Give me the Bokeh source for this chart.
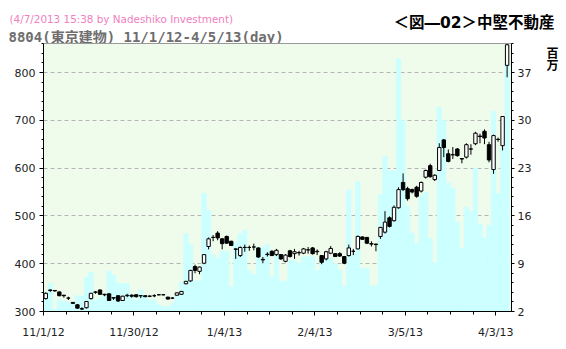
from bokeh.plotting import figure
from bokeh.layouts import column, row
from bokeh.models import Range1d, LinearAxis, FixedTicker, SingleIntervalTicker, Label, ColumnDataSource
from bokeh.embed import file_html
from bokeh.resources import INLINE

# ---- data ----
tick_days = [0, 20, 40, 60, 80, 100]
tick_labels = ["11/1/12", "11/30/12", "1/4/13", "2/4/13", "3/5/13", "4/3/13"]

opens = [327, 345, 344, 341, 334, 328, 319, 314, 306, 308, 327, 340, 345, 336, 337, 329, 333, 323, 333, 334,
         335, 333, 333, 332, 333, 335, 335, 330, 328, 334, 336, 358, 364, 394, 384, 401, 436, 455, 464, 452,
         457, 447, 431, 417, 434, 434, 435, 433, 408, 419, 426, 419, 419, 405, 427, 421, 423, 422, 429, 433,
         425, 417, 410, 422, 421, 421, 415, 417, 426, 431, 456, 455, 442, 441, 457, 466, 496, 490, 517, 570,
         557, 555, 560, 552, 581, 605, 576, 595, 659, 630, 628, 640, 620, 623, 640, 651, 667, 677, 649, 597,
         660, 647, 815]
highs = [340, 346, 345, 342, 335, 331, 320, 315, 309, 322, 339, 343, 346, 337, 338, 330, 334, 333, 337, 336,
         336, 334, 334, 334, 336, 336, 336, 331, 330, 340, 343, 364, 387, 398, 394, 420, 455, 460, 468, 453,
         459, 448, 432, 436, 440, 438, 442, 434, 414, 424, 428, 431, 420, 420, 429, 431, 427, 433, 435, 435,
         430, 418, 427, 437, 422, 424, 416, 440, 431, 459, 457, 456, 447, 442, 477, 510, 499, 522, 560, 589,
         561, 557, 563, 572, 597, 609, 587, 652, 661, 639, 644, 642, 621, 652, 650, 676, 672, 681, 655, 670,
         664, 709, 860]
lows = [325, 341, 342, 332, 329, 324, 316, 306, 303, 306, 325, 337, 335, 332, 322, 324, 320, 322, 330, 329,
        329, 328, 330, 330, 330, 334, 334, 325, 326, 333, 335, 357, 362, 380, 378, 399, 430, 447, 449, 430,
        442, 437, 410, 414, 425, 427, 428, 412, 401, 415, 416, 416, 408, 403, 413, 410, 417, 420, 421, 419,
        418, 399, 407, 420, 414, 414, 399, 415, 418, 430, 450, 441, 436, 426, 452, 463, 476, 488, 515, 552,
        532, 547, 538, 549, 578, 580, 573, 594, 623, 612, 619, 624, 610, 620, 628, 648, 652, 650, 612, 588,
        655, 637, 790]
closes = [338, 344, 343, 333, 333, 328, 317, 307, 305, 321, 338, 341, 336, 335, 323, 328, 322, 332, 334, 332,
          331, 333, 331, 332, 333, 335, 335, 326, 328, 339, 342, 363, 386, 386, 393, 419, 452, 455, 454, 442,
          443, 438, 430, 434, 434, 434, 435, 414, 409, 420, 417, 428, 410, 418, 415, 425, 423, 431, 429, 421,
          426, 403, 425, 432, 415, 416, 401, 433, 426, 457, 451, 443, 441, 440, 476, 487, 478, 518, 555, 555,
          536, 550, 541, 570, 595, 582, 585, 643, 643, 614, 628, 626, 619, 649, 640, 673, 666, 663, 617, 668,
          660, 708, 858]
volumes = [4.8, 6.1, 2.3, 3.8, 3.4, 3.4, 3.3, 4.3, 4.3, 7.0, 7.8, 3.6, 4.0, 4.5, 7.9, 7.3, 6.1, 6.1, 6.1, 4.5,
           3.6, 5.2, 4.3, 3.7, 3.7, 3.0, 2.7, 2.7, 3.2, 4.4, 6.3, 13.4, 11.8, 6.5, 6.5, 19.3, 16.8, 10.3, 9.8, 10.8,
           10.8, 5.6, 12.1, 13.4, 13.9, 8.0, 7.4, 11.4, 11.4, 11.8, 7.0, 10.4, 6.4, 6.5, 9.5, 9.5, 9.1, 10.0, 10.0, 10.0,
           8.0, 9.8, 9.8, 9.8, 9.0, 8.1, 5.7, 19.8, 10.5, 21.0, 8.3, 8.3, 5.8, 5.8, 19.1, 24.7, 22.6, 22.6, 39.0, 30.0,
           17.4, 13.5, 12.0, 19.0, 19.5, 12.7, 9.1, 31.9, 30.0, 20.8, 20.1, 15.1, 11.3, 17.3, 16.7, 23.0, 14.9, 12.8, 14.6, 31.3,
           19.3, 26.0, 38.3]

price_ticks_step = 100
vol_ticks = [2, 9, 16, 23, 30, 37]

# ---- layout ----
W, H = 566, 349
HEAD_H = 43            # header strip height
SIDE_W = 20            # right strip width (for the unit label)
MAIN_W, MAIN_H = W - SIDE_W, H - HEAD_H
FL, FR, FB = 43, 511, 311   # frame edges in page pixels
n = len(closes)
X0, X1 = 0.0, 103.47
Y0, Y1 = 300.0, 860.7
V0 = vol_ticks[0]
V1 = V0 + (Y1 - Y0) * (vol_ticks[-1] - vol_ticks[0]) / (800 - 300)

FONT = "DejaVu Sans, Noto Sans CJK JP"
MONO = "DejaVu Sans Mono, Noto Sans CJK JP"

def blank(w, h):
    f = figure(width=w, height=h, output_backend="svg", toolbar_location=None,
               x_range=Range1d(0, w), y_range=Range1d(h, 0),
               x_axis_location=None, y_axis_location=None,
               min_border_left=0, min_border_right=0, min_border_top=0, min_border_bottom=0)
    f.title.visible = False
    f.grid.visible = False
    f.outline_line_color = None
    f.background_fill_color = "white"
    f.border_fill_color = "white"
    return f

def add_text(f, txt, px, py, size, color, font=FONT, align="left", style="normal"):
    f.add_layout(Label(x=px, y=py, text=txt, text_font=font, text_font_size=size,
                       text_color=color, text_align=align, text_baseline="alphabetic",
                       text_font_style=style))

# header
head = blank(W, HEAD_H)
add_text(head, "(4/7/2013 15:38 by Nadeshiko Investment)", 9, 18, "10.4px", "#f080c0")
add_text(head, "8804(東京建物) 11/1/12-4/5/13(day)", 8, 36, "14px", "#6e6e6e", font=MONO, style="bold")
add_text(head, "＜図―02＞中堅不動産", 554, 22, "15.5px", "black", align="right", style="bold")

# right strip with unit
side = blank(SIDE_W, MAIN_H)
add_text(side, "百", 6, 55 - HEAD_H, "12px", "black", align="center", style="bold")
add_text(side, "万", 6, 69 - HEAD_H, "12px", "black", align="center", style="bold")

# main chart
xs = [i + 0.5 for i in range(n)]
src = ColumnDataSource(dict(
    x=xs, o=opens, h=highs, l=lows, c=closes, v=volumes,
    top=[max(a, b) for a, b in zip(opens, closes)],
    bot=[min(a, b) for a, b in zip(opens, closes)],
    fill=["white" if c >= o else "black" for o, c in zip(opens, closes)],
))

p = figure(width=MAIN_W, height=MAIN_H, output_backend="svg", toolbar_location=None,
           x_range=Range1d(X0, X1), y_range=Range1d(Y0, Y1),
           min_border_left=FL, min_border_right=MAIN_W - FR, min_border_top=0,
           min_border_bottom=H - FB)
p.title.visible = False
p.extra_y_ranges = {"vol": Range1d(V0, V1)}
p.background_fill_color = "#effcec"
p.border_fill_color = "white"
p.outline_line_color = "#999999"

p.vbar(x="x", width=1.0, top="v", bottom=V0, source=src, y_range_name="vol",
       fill_color="#ccffff", line_color="#ccffff", line_width=0.6)
p.segment(x0="x", y0="l", x1="x", y1="h", source=src, line_color="black", line_width=1)
p.vbar(x="x", width=0.75, top="top", bottom="bot", source=src,
       fill_color="fill", line_color="black", line_width=1)

p.xgrid.visible = False
p.ygrid.grid_line_color = "#b4b4b4"
p.ygrid.grid_line_dash = "4 3"
p.ygrid.ticker = SingleIntervalTicker(interval=price_ticks_step)

for ax in [p.xaxis[0], p.yaxis[0]]:
    ax.axis_line_color = "black"
    ax.major_tick_line_color = "black"
    ax.minor_tick_line_color = "black"
    ax.major_tick_in = 0
    ax.minor_tick_in = 0
    ax.major_label_text_font = FONT
    ax.major_label_text_font_size = "11px"
    ax.major_label_text_color = "#222222"

p.yaxis.ticker = SingleIntervalTicker(interval=price_ticks_step, num_minor_ticks=5)
p.yaxis.major_tick_out = 4
p.yaxis.minor_tick_out = 2
p.yaxis.major_label_standoff = 4

p.xaxis.ticker = FixedTicker(ticks=tick_days, minor_ticks=list(range(0, 104, 5)))
p.xaxis.major_label_overrides = {t: s for t, s in zip(tick_days, tick_labels)}
p.xaxis.major_tick_out = 4
p.xaxis.minor_tick_out = 3
p.xaxis.major_label_standoff = 10

vstep = vol_ticks[1] - vol_ticks[0]
vminor = [vol_ticks[0] + k * vstep / 5 for k in range(0, 5 * (len(vol_ticks) - 1) + 4)]
vax = LinearAxis(y_range_name="vol", ticker=FixedTicker(ticks=vol_ticks, minor_ticks=vminor))
vax.axis_line_color = "black"
vax.major_tick_line_color = "black"
vax.minor_tick_line_color = "black"
vax.major_tick_in = 0
vax.minor_tick_in = 0
vax.major_tick_out = 3
vax.minor_tick_out = 2
vax.major_label_standoff = 3
vax.major_label_text_font = FONT
vax.major_label_text_font_size = "11px"
vax.major_label_text_color = "#222222"
p.add_layout(vax, "right")

layout = column(head, row(p, side))
open("out.html", "w").write(file_html(layout, INLINE))
